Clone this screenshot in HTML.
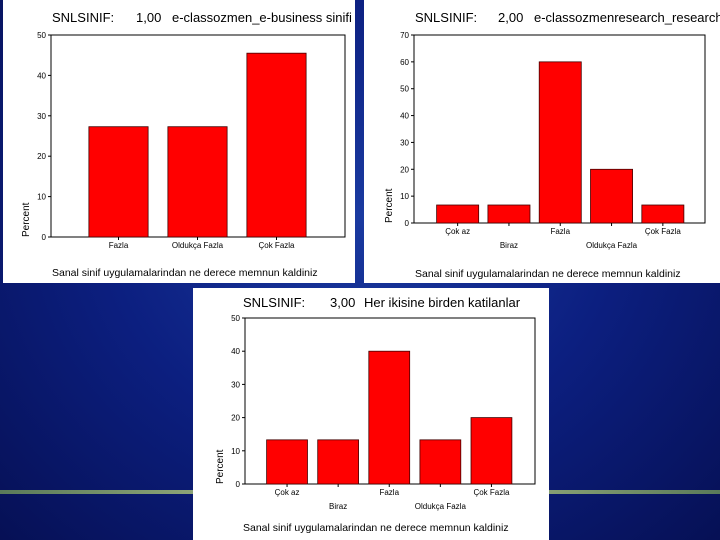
<!DOCTYPE html>
<html><head><meta charset="utf-8"><style>
body{margin:0;width:720px;height:540px;overflow:hidden;background:#0a1a6e;font-family:"Liberation Sans",sans-serif}
#bg{position:absolute;left:0;top:0;width:720px;height:540px;background:radial-gradient(ellipse at 50% 40%,#1a3aa0 0%,#0c1f80 50%,#061055 100%)}
.panel{position:absolute;background:#fff}
svg text{font-family:"Liberation Sans",sans-serif}
</style></head><body>
<div id="bg"></div>
<div style="position:absolute;left:0;top:490px;width:720px;height:4px;background:linear-gradient(90deg,#5a7a5a,#b8c890,#5a7a5a)"></div>
<div class="panel" style="left:3px;top:0;width:352px;height:283px"></div>
<div class="panel" style="left:364px;top:0;width:356px;height:283px"></div>
<div class="panel" style="left:193px;top:288px;width:356px;height:252px"></div>
<svg id="chart" width="720" height="540" style="position:absolute;left:0;top:0"></svg>
<script>
const cats1=["Fazla","Oldukça Fazla","Çok Fazla"];
const vals1=[27.3,27.3,45.5];
const ticks1=[0,10,20,30,40,50];
const cats2=["Çok az","Biraz","Fazla","Oldukça Fazla","Çok Fazla"];
const vals2=[6.7,6.7,60,20,6.7];
const ticks2=[0,10,20,30,40,50,60,70];
const cats3=["Çok az","Biraz","Fazla","Oldukça Fazla","Çok Fazla"];
const vals3=[13.3,13.3,40,13.3,20];
const ticks3=[0,10,20,30,40,50];
const titles=[["SNLSINIF:","1,00","e-classozmen_e-business sinifi"],["SNLSINIF:","2,00","e-classozmenresearch_research"],["SNLSINIF:","3,00","Her ikisine birden katilanlar"]];
const xtitle="Sanal sinif uygulamalarindan ne derece memnun kaldiniz";
const NS="http://www.w3.org/2000/svg";
const svg=document.getElementById('chart');
function el(t,a,txt){const e=document.createElementNS(NS,t);for(const k in a)e.setAttribute(k,a[k]);if(txt!=null)e.textContent=txt;svg.appendChild(e);return e;}
function draw(p,cats,vals,ticks,title,idx){
  const max=ticks[ticks.length-1];
  const y=v=>p.y0-(v/max)*(p.y0-p.y1);
  const band=(p.bx1-p.bx0)/cats.length;
  let f=el('rect',{x:p.x0,y:p.y1,width:p.x1-p.x0,height:p.y0-p.y1,fill:'none',stroke:'#000','stroke-width':1});
  
  ticks.forEach(t=>{
    el('line',{x1:p.x0-3,x2:p.x0,y1:y(t),y2:y(t),stroke:'#000'});
    let tx=el('text',{x:p.x0-5,y:y(t)+3,'font-size':8,'text-anchor':'end'},t);
    
  });
  cats.forEach((c,i)=>{
    const cx=p.bx0+band*(i+0.5);
    const w=band*p.bw;
    let r=el('rect',{x:cx-w/2,y:y(vals[i]),width:w,height:p.y0-y(vals[i]),fill:'#ff0000',stroke:'#400','stroke-width':0.8});
    
    
    el('line',{x1:cx,x2:cx,y1:p.y0,y2:p.y0+3,stroke:'#000'});
    const row=(cats.length>3&&i%2==1)?1:0;
    let lt=el('text',{x:cx,y:p.y0+11+row*14,'font-size':8,'text-anchor':'middle'},c);
    
  });
  let tt=el('text',{x:p.tx,y:p.ty,'font-size':13},null);
  
  [[0,title[0]],[p.tg1,title[1]],[p.tg2,title[2]]].forEach(([dx,s])=>{const sp=document.createElementNS(NS,'tspan');sp.setAttribute('x',p.tx+dx);sp.textContent=s;tt.appendChild(sp);});
  let yt=el('text',{x:0,y:0,'font-size':10,transform:`translate(${p.x0-22},${p.y0}) rotate(-90)`},'Percent');
  
  let xt=el('text',{x:p.xtx,y:p.xty,'font-size':10.5},xtitle);
  
}
draw({x0:51,x1:345,bx0:79,bx1:316,y0:237,y1:35,bw:0.75,tx:52,ty:22,tg1:84,tg2:120,xtx:52,xty:276},cats1,vals1,ticks1,titles[0],1);
draw({x0:414,x1:705,bx0:432,bx1:688.5,y0:223,y1:35,bw:0.82,tx:415,ty:22,tg1:83,tg2:119,xtx:415,xty:277},cats2,vals2,ticks2,titles[1],2);
draw({x0:245,x1:535,bx0:261.5,bx1:517,y0:484,y1:318,bw:0.8,tx:243,ty:307,tg1:87,tg2:121,xtx:243,xty:531},cats3,vals3,ticks3,titles[2],3);
</script>
</body></html>
